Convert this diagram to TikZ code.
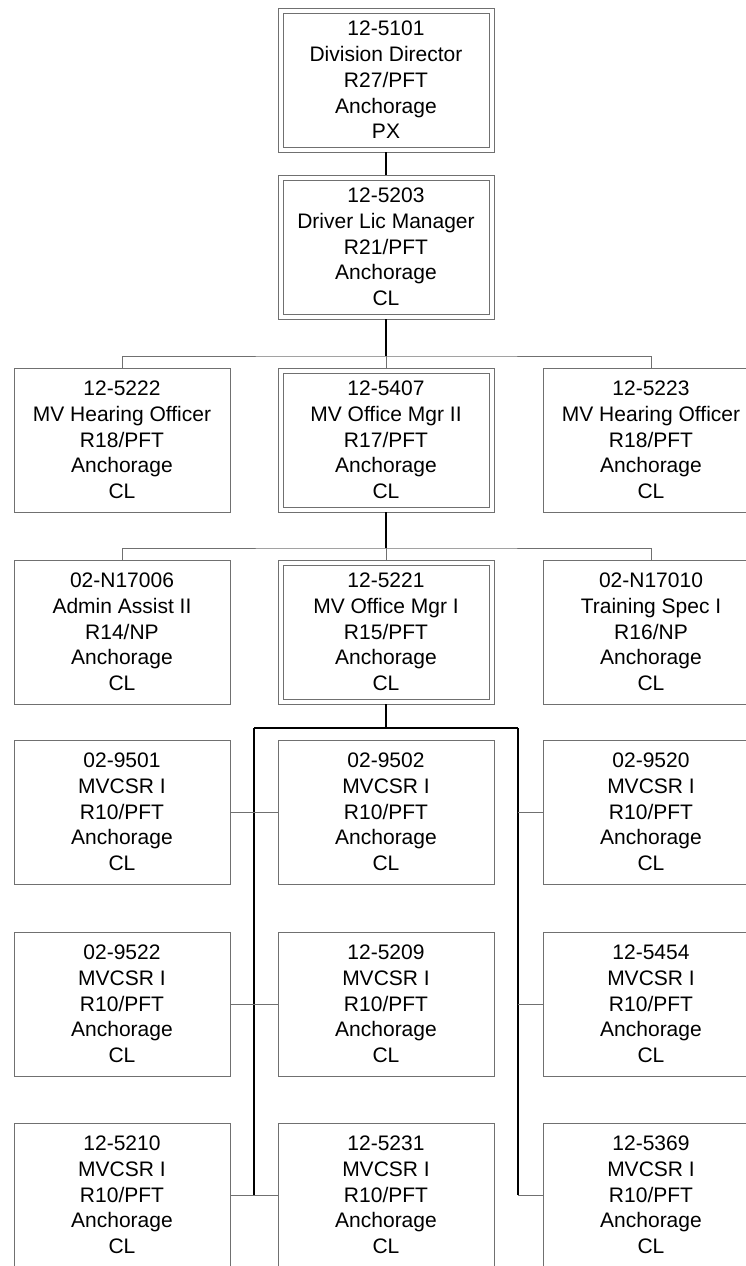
\documentclass[tikz,border=0pt]{standalone}
\usepackage{fontspec}
\setmainfont{Liberation Sans}
\definecolor{boxgray}{RGB}{112,112,112}

\begin{document}
\begin{tikzpicture}[x=1pt, y=-1pt,
  posbox/.style={draw=boxgray, line width=1pt, fill=white, align=center,
    minimum width=216pt, minimum height=144pt, inner sep=0pt,
    font=\fontsize{21}{25.7}\selectfont},
  chainbox/.style={posbox, double=white, double distance=4pt,
    minimum width=211pt, minimum height=139pt, outer sep=2.5pt},
  link/.style={draw=boxgray, line width=1pt},
  stem/.style={draw=black, line width=1.2pt}]
\useasboundingbox (0,0) rectangle (746,1266);

% 上层
\node[chainbox] (dir) at (386,80) {12-5101\\Division Director\\R27/PFT\\Anchorage\\PX};
\node[chainbox] (dlm) at (386,247) {12-5203\\Driver Lic Manager\\R21/PFT\\Anchorage\\CL};

% 第三层
\node[posbox] (hear1) at (122,440) {12-5222\\MV Hearing Officer\\R18/PFT\\Anchorage\\CL};
\node[chainbox] (omgr2) at (386,440) {12-5407\\MV Office Mgr II\\R17/PFT\\Anchorage\\CL};
\node[posbox] (hear2) at (651,440) {12-5223\\MV Hearing Officer\\R18/PFT\\Anchorage\\CL};

% 第四层
\node[posbox] (admin) at (122,632) {02-N17006\\Admin Assist II\\R14/NP\\Anchorage\\CL};
\node[chainbox] (omgr1) at (386,632) {12-5221\\MV Office Mgr I\\R15/PFT\\Anchorage\\CL};
\node[posbox] (train) at (651,632) {02-N17010\\Training Spec I\\R16/NP\\Anchorage\\CL};

% MVCSR
\node[posbox] (c9501) at (122,812) {02-9501\\MVCSR I\\R10/PFT\\Anchorage\\CL};
\node[posbox] (c9502) at (386,812) {02-9502\\MVCSR I\\R10/PFT\\Anchorage\\CL};
\node[posbox] (c9520) at (651,812) {02-9520\\MVCSR I\\R10/PFT\\Anchorage\\CL};
\node[posbox] (c9522) at (122,1004) {02-9522\\MVCSR I\\R10/PFT\\Anchorage\\CL};
\node[posbox] (c5209) at (386,1004) {12-5209\\MVCSR I\\R10/PFT\\Anchorage\\CL};
\node[posbox] (c5454) at (651,1004) {12-5454\\MVCSR I\\R10/PFT\\Anchorage\\CL};
\node[posbox] (c5210) at (122,1195) {12-5210\\MVCSR I\\R10/PFT\\Anchorage\\CL};
\node[posbox] (c5231) at (386,1195) {12-5231\\MVCSR I\\R10/PFT\\Anchorage\\CL};
\node[posbox] (c5369) at (651,1195) {12-5369\\MVCSR I\\R10/PFT\\Anchorage\\CL};

% 连线
\coordinate (j1) at (386,356);
\coordinate (j2) at (386,548);
\coordinate (j3) at (386,728);
\coordinate (tl) at (254,728);
\coordinate (tr) at (518,728);

\draw[stem] (dir) -- (dlm);
\draw[stem] (dlm) -- (j1);
\draw[link] (hear1.north) |- (j1) -| (hear2.north);
\draw[link] (j1) -- (omgr2.north);

\draw[stem] (omgr2) -- (j2);
\draw[link] (admin.north) |- (j2) -| (train.north);
\draw[link] (j2) -- (omgr1.north);

\draw[stem] (omgr1) -- (j3);
\draw[stem] (tl) -- (tr);
\draw[stem] (tl) -- (tl |- c5210.east);
\draw[stem] (tr) -- (tr |- c5369.west);

\draw[link] (c9501.east) -- (c9502.west);
\draw[link] (c9522.east) -- (c5209.west);
\draw[link] (c5210.east) -- (c5231.west);
\draw[link] (tr |- c9520.west) -- (c9520.west);
\draw[link] (tr |- c5454.west) -- (c5454.west);
\draw[link] (tr |- c5369.west) -- (c5369.west);
\end{tikzpicture}
\end{document}
